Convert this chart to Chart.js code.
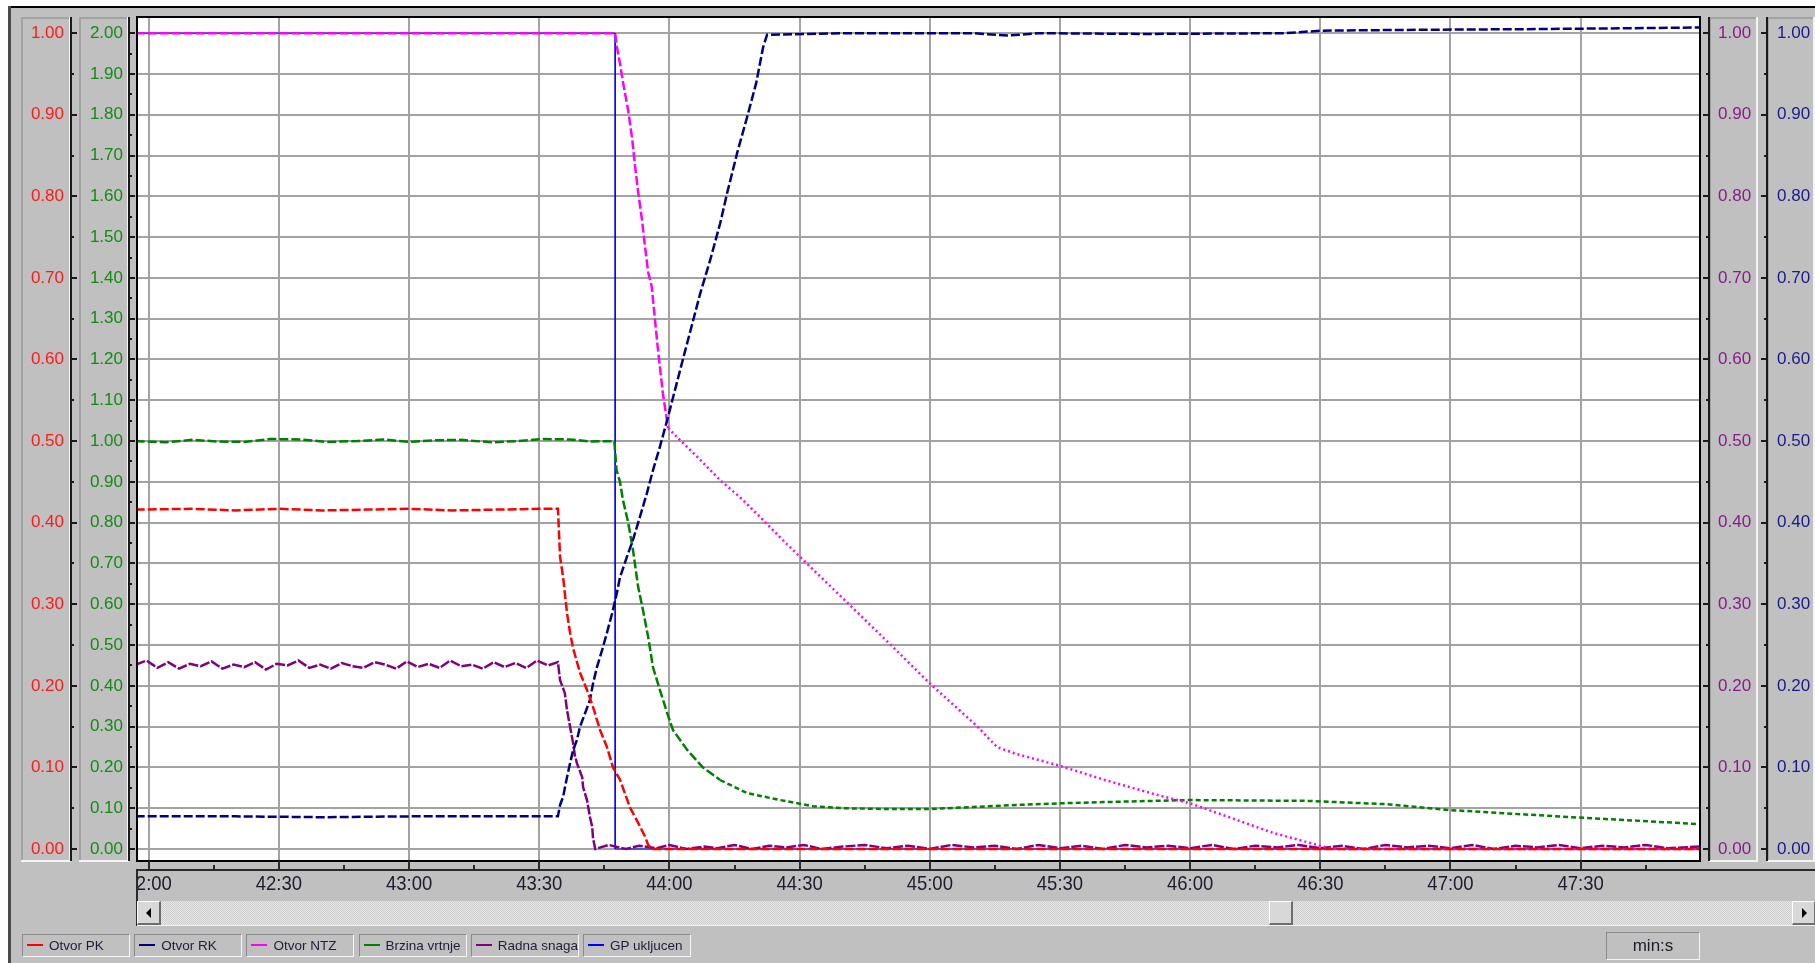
<!DOCTYPE html>
<html>
<head>
<meta charset="utf-8">
<script src="https://cdn.jsdelivr.net/npm/chart.js@4.4.1/dist/chart.umd.min.js"></script>
<style>
html, body { margin: 0; padding: 0; width: 1815px; height: 963px; overflow: hidden; background: #c0c0c0;
  font-family: "Liberation Sans", Arial, sans-serif; }
#plot { position: absolute; left: 0; top: 0; }
.strip { position: absolute; }
#sb { position: absolute; left: 137px; top: 901px; width: 1678px; height: 24px;
  background: repeating-conic-gradient(#e6e6e6 0 25%, #cfcfcf 0 50%) 0 0 / 2px 2px; }
.btn { position: absolute; top: 0; width: 21px; height: 21px; background: #d8d8d8;
  border-top: 1px solid #fff; border-left: 1px solid #fff; border-right: 2px solid #6e6e6e; border-bottom: 2px solid #6e6e6e; }
.arr { position: absolute; top: 6px; width: 0; height: 0; border-top: 5px solid transparent; border-bottom: 5px solid transparent; }
.lg { position: absolute; top: 934px; width: 106px; height: 21px; border-top: 1px solid #8a8a8a; border-left: 1px solid #8a8a8a;
  border-right: 1px solid #f6f6f6; border-bottom: 1px solid #f6f6f6; font-size: 13.5px; color: #1e1e38; }
.lg i { position: absolute; left: 4px; top: 9px; width: 16px; height: 2px; }
.lg span { position: absolute; left: 26px; top: 3px; white-space: nowrap; }
#unit { position: absolute; left: 1606px; top: 932px; width: 92px; height: 26px; border-top: 1px solid #8a8a8a; border-left: 1px solid #8a8a8a;
  border-right: 1px solid #f6f6f6; border-bottom: 1px solid #f6f6f6; font-size: 17px; line-height: 26px; text-align: center; color: #1e1e2a; }
</style>
</head>
<body>
<canvas id="plot" width="1815" height="963"></canvas>
<div class="strip" style="left:0;top:0;width:1815px;height:6px;background:#fff"></div>
<div class="strip" style="left:8px;top:6px;width:1807px;height:2px;background:#000"></div>
<div class="strip" style="left:0;top:0;width:8px;height:963px;background:#fff"></div>
<div class="strip" style="left:8px;top:6px;width:3px;height:957px;background:#4a4a4a"></div>
<div id="sb">
  <div class="btn" style="left:0"><div class="arr" style="left:8px;border-right:5px solid #000"></div></div>
  <div class="btn" style="left:1132px"></div>
  <div class="btn" style="left:1655px"><div class="arr" style="left:9px;border-left:5px solid #000"></div></div>
</div>
<div id="legend"></div>
<div id="unit">min:s</div>
<script>
// time axis: seconds after 42:00
const xStart = 42 * 60;
const xMin = -2.7, xMax = 357.5;
const xTickLabels = ['42:00', '42:30', '43:00', '43:30', '44:00', '44:30', '45:00', '45:30', '46:00', '46:30', '47:00', '47:30'];
const unitTicks = [0, 0.1, 0.2, 0.3, 0.4, 0.5, 0.6, 0.7, 0.8, 0.9, 1.0];
const greenTicks = [0, 0.1, 0.2, 0.3, 0.4, 0.5, 0.6, 0.7, 0.8, 0.9, 1.0, 1.1, 1.2, 1.3, 1.4, 1.5, 1.6, 1.7, 1.8, 1.9, 2.0];

const seriesNames = ['Otvor PK', 'Otvor RK', 'Otvor NTZ', 'Brzina vrtnje', 'Radna snaga', 'GP ukljucen'];
const seriesColors = ['#ff0000', '#000080', '#ff00ff', '#008000', '#800080', '#0000ff'];

// Otvor PK (0..1)
const pkT = [-3, 10, 20, 30, 40, 50, 60, 70, 80, 90, 94.3, 94.8, 95.5, 96.4, 97.1, 97.8, 99.4, 101, 102.4, 104, 105.6, 107, 108.6, 110.9, 112.8, 114.4, 115.1, 116, 358];
const pkV = [0.416, 0.417, 0.415, 0.417, 0.415, 0.416, 0.417, 0.415, 0.416, 0.417, 0.417, 0.358, 0.333, 0.289, 0.265, 0.246, 0.216, 0.195, 0.174, 0.146, 0.125, 0.1, 0.085, 0.051, 0.032, 0.015, 0.005, 0, 0];

// Otvor RK (0..1)
const rkT = [-3, 20, 40, 60, 80, 94.3, 94.8, 95.5, 96.4, 97.1, 97.8, 98.7, 99.4, 100.6, 101.7, 102.4, 103.3, 104.5, 105.6, 106.8, 107.9, 108.6, 110.2, 111.6, 113.2, 114.8, 116.2, 117.8, 119.5, 123.1, 127.1, 129.4, 131.7, 133.3, 135.6, 137.9, 140.0, 141.6, 142.5, 160, 190, 198, 205, 230, 262, 270, 290, 320, 340, 358];
const rkV = [0.04, 0.04, 0.039, 0.04, 0.04, 0.04, 0.054, 0.064, 0.088, 0.105, 0.121, 0.134, 0.15, 0.167, 0.183, 0.203, 0.223, 0.244, 0.265, 0.289, 0.314, 0.333, 0.358, 0.379, 0.407, 0.436, 0.464, 0.493, 0.526, 0.60, 0.681, 0.722, 0.767, 0.804, 0.853, 0.897, 0.939, 0.983, 0.998, 1.0, 1.0, 0.997, 1.0, 0.999, 1.0, 1.003, 1.004, 1.005, 1.006, 1.007];

// Otvor NTZ (0..1)
const ntzT = [-3, 107.5, 107.9, 108.6, 109.3, 110.5, 111.4, 112.1, 112.8, 113.7, 114.4, 115.1, 115.9, 117.3, 118.5, 119.7, 122.5, 127.1, 131.7, 136.3, 140.9, 145.5, 150.1, 154.0, 169.9, 180, 190.6, 195.5, 199.6, 210, 220.1, 232.6, 240, 259, 270, 272.5, 358];
const ntzV = [1.0, 1.0, 0.983, 0.963, 0.94, 0.905, 0.871, 0.836, 0.805, 0.77, 0.737, 0.707, 0.69, 0.615, 0.558, 0.516, 0.501, 0.477, 0.452, 0.431, 0.407, 0.382, 0.358, 0.338, 0.256, 0.203, 0.152, 0.125, 0.117, 0.102, 0.085, 0.066, 0.056, 0.02, 0.004, 0, 0];

// Brzina vrtnje (0..2)
const brzT = [-3, 4, 10, 16, 22, 28, 35, 41, 48, 54, 60, 66, 72, 79, 85, 91, 97, 102, 107.3, 107.8, 108.6, 109.3, 110.5, 111.6, 112.8, 113.9, 115.1, 116.2, 117.8, 119.5, 120.8, 124.1, 127.7, 131.7, 137.9, 145.5, 153.1, 160, 170, 180, 190, 200, 210, 220, 240, 267, 285, 299, 328, 357.5];
const brzV = [1.0, 0.997, 1.003, 0.999, 0.998, 1.005, 1.004, 0.998, 1.0, 1.004, 0.998, 1.002, 1.003, 0.997, 1.0, 1.005, 1.004, 0.999, 1.0, 0.93, 0.90, 0.855, 0.80, 0.733, 0.642, 0.586, 0.52, 0.446, 0.39, 0.333, 0.292, 0.243, 0.20, 0.169, 0.137, 0.12, 0.105, 0.10, 0.098, 0.098, 0.103, 0.108, 0.112, 0.115, 0.12, 0.118, 0.11, 0.096, 0.078, 0.061];

// Radna snaga (0..1)
const rsT = [-3, -0.5, 2, 4.5, 7, 9.5, 12, 14.5, 17, 19.5, 22, 24.5, 27, 29.5, 32, 34.5, 37, 39.5, 42, 44.5, 47, 49.5, 52, 54.5, 57, 59.5, 62, 64.5, 67, 69.5, 72, 74.5, 77, 79.5, 82, 84.5, 87, 89.5, 92, 94.3,
  94.8, 95.9, 96.4, 97.1, 97.8, 98.2, 98.7, 99.9, 100.1, 101.0, 101.7, 102.2, 102.4, 102.9,
  106, 110, 113, 117, 120, 124, 128, 131, 135, 139, 143, 147, 151, 155, 160, 165, 170, 175, 180, 185, 190, 195, 200, 205, 210, 215, 220, 225, 230, 235, 240, 245, 250, 255, 260, 265, 270, 275, 280, 285, 290, 295, 300, 305, 310, 315, 320, 325, 330, 335, 340, 345, 350, 357.5];
const rsV = [0.226, 0.231, 0.222, 0.229, 0.221, 0.227, 0.224, 0.23, 0.221, 0.226, 0.223, 0.229, 0.22, 0.227, 0.225, 0.231, 0.222, 0.226, 0.221, 0.228, 0.224, 0.222, 0.229, 0.226, 0.221, 0.23, 0.223, 0.227, 0.222, 0.231, 0.224, 0.226, 0.221, 0.229, 0.223, 0.228, 0.222, 0.231, 0.225, 0.229,
  0.207, 0.191, 0.17, 0.15, 0.13, 0.115, 0.105, 0.088, 0.076, 0.06, 0.039, 0.027, 0.013, 0,
  0.005, 0, 0.004, 0.001, 0.005, 0, 0.003, 0.001, 0.005, 0, 0.004, 0.002, 0.005, 0, 0.003, 0.005, 0.001, 0.004, 0, 0.005, 0.002, 0.004, 0, 0.005, 0.001, 0.004, 0, 0.005, 0.002, 0.004, 0.001, 0.005, 0, 0.004, 0.002, 0.005, 0.001, 0.004, 0, 0.005, 0.002, 0.004, 0.001, 0.005, 0, 0.004, 0.002, 0.005, 0.001, 0.004, 0.002, 0.005, 0.001, 0.003];

// GP ukljucen (0/1)
const gpT = [-3, 107.5, 107.5, 358];
const gpV = [1, 1, 0, 0];

const pts = (t, v) => t.map((x, i) => ({ x: x, y: v[i] }));
const fmtTime = v => { const s = Math.round(v + xStart); return Math.floor(s / 60) + ':' + String(s % 60).padStart(2, '0'); };
const xTickValues = xTickLabels.map(l => { const p = l.split(':').map(Number); return p[0] * 60 + p[1] - xStart; });

const axisFont = { family: '"Liberation Sans", Arial, sans-serif', size: 17 };

function yAxis(pos, weight, min, max, ticks, color, width, pad, grid) {
  return {
    type: 'linear', position: pos, weight: weight, min: min, max: max,
    afterBuildTicks: s => { s.ticks = ticks.map(v => ({ value: v })); },
    afterFit: s => { s.width = width; s.paddingTop = 0; s.paddingBottom = 0; },
    ticks: { color: color, font: axisFont, padding: pad, callback: v => v.toFixed(2) },
    grid: grid ? { color: '#a3a3a3', lineWidth: 2, drawTicks: false } : { display: false, drawTicks: false },
    border: { display: false }
  };
}

function line(i, t, v, axis, dash, extra) {
  return Object.assign({
    label: seriesNames[i], data: pts(t, v), yAxisID: axis,
    borderColor: seriesColors[i], borderWidth: 2.5, borderDash: dash,
    pointRadius: 0, tension: 0, fill: false
  }, extra || {});
}

// panels drawn around the value axes; line = x of the axis line, dir = side of the tick marks
function panelsOf(chart) {
  const s = chart.scales;
  return [
    { id: 'yRed', x0: s.yRed.left, x1: s.yRed.right - 8, line: s.yRed.right - 8, dir: 1 },
    { id: 'yGreen', x0: s.yGreen.left, x1: s.yGreen.right - 8, line: s.yGreen.right - 8, dir: 1 },
    { id: 'yPurple', x0: s.yPurple.left + 9, x1: s.yPurple.right - 9, line: s.yPurple.left + 9, dir: -1 },
    { id: 'yNavy', x0: s.yNavy.left, x1: s.yNavy.right, line: s.yNavy.left, dir: -1 }
  ];
}

const chrome = {
  id: 'chrome',
  beforeDraw(chart) {
    const { ctx, chartArea: a } = chart;
    ctx.save();
    ctx.fillStyle = '#fff';
    ctx.fillRect(a.left, a.top, a.right - a.left, a.bottom - a.top);
    for (const p of panelsOf(chart)) {
      ctx.fillStyle = '#a2a2a2';
      ctx.fillRect(p.x0, a.top, p.x1 - p.x0, 2);
      ctx.fillRect(p.x0, a.top, 2, a.bottom - a.top);
      ctx.fillStyle = '#f4f4f4';
      ctx.fillRect(p.x0, a.bottom - 1, p.x1 - p.x0, 2);
      ctx.fillRect(p.x1 - 2, a.top, 2, a.bottom - a.top);
    }
    ctx.restore();
  },
  afterDraw(chart) {
    const { ctx, chartArea: a, scales } = chart;
    ctx.save();
    // value axes: line + major/minor ticks
    for (const p of panelsOf(chart)) {
      const sc = scales[p.id];
      ctx.fillStyle = '#1a1a1a';
      ctx.fillRect(p.line - 1, a.top, 2, a.bottom - a.top);
      const top = sc.max;
      for (let k = 0; k * 0.05 <= top + 1e-9; k++) {
        const y = Math.round(sc.getPixelForValue(k * 0.05));
        const len = k % 2 === 0 ? 6 : 3;
        const x = p.dir > 0 ? p.line : p.line - len;
        ctx.fillRect(x, y - 1, len, 2);
      }
    }
    // plot frame
    ctx.strokeStyle = '#000';
    ctx.lineWidth = 2;
    ctx.strokeRect(a.left, a.top, a.right - a.left, a.bottom - a.top);
    // time axis strip
    const xs = scales.x;
    const yl = a.bottom + 8;
    ctx.fillStyle = '#2a2a2a';
    ctx.fillRect(a.left, yl, chart.width - a.left, 2);
    ctx.fillRect(a.left - 1, yl, 2, 57);
    ctx.fillStyle = '#f4f4f4';
    ctx.fillRect(a.left, yl + 56, chart.width - a.left, 1);
    ctx.fillStyle = '#2a2a2a';
    for (let v = 0; v <= xMax; v += 15) {
      const x = Math.round(xs.getPixelForValue(v));
      const major = v % 30 === 0;
      ctx.fillRect(x - 1, major ? a.bottom : yl - 4, 2, major ? 8 : 4);
    }
    ctx.beginPath();
    ctx.rect(a.left + 1, yl + 2, chart.width - a.left, 40);
    ctx.clip();
    ctx.fillStyle = '#1c1c2c';
    ctx.font = '21px "Liberation Sans", Arial, sans-serif';
    ctx.textAlign = 'center';
    ctx.textBaseline = 'middle';
    xTickValues.forEach((v, i) => {
      ctx.save();
      ctx.translate(xs.getPixelForValue(v), yl + 15);
      ctx.scale(0.88, 1);
      ctx.fillText(xTickLabels[i], 0, 0);
      ctx.restore();
    });
    ctx.restore();
  }
};

const ntzDots = { borderDash: c => c.p0.parsed.x >= 119.7 ? [2, 3] : [9, 3] };
const brzDots = { borderDash: c => c.p0.parsed.x >= 131.7 ? [5, 3] : [9, 3] };

new Chart(document.getElementById('plot'), {
  type: 'line',
  data: {
    datasets: [
      line(0, pkT, pkV, 'yRed', [9, 3]),
      line(1, rkT, rkV, 'yNavy', [9, 3]),
      line(2, ntzT, ntzV, 'yRed', [9, 3], { segment: ntzDots }),
      line(3, brzT, brzV, 'yGreen', [9, 3], { segment: brzDots }),
      line(4, rsT, rsV, 'yPurple', [10, 2]),
      line(5, gpT, gpV, 'yNavy', [], { borderWidth: 1 })
    ]
  },
  options: {
    responsive: false,
    animation: false,
    devicePixelRatio: 1,
    layout: { padding: { left: 21, right: 0, top: 17, bottom: 37 } },
    plugins: { legend: { display: false }, tooltip: { enabled: false } },
    scales: {
      x: {
        type: 'linear', position: 'bottom', min: xMin, max: xMax,
        afterBuildTicks: s => { s.ticks = xTickValues.map(v => ({ value: v })); },
        afterFit: s => { s.height = 65; },
        ticks: { display: false, callback: fmtTime },
        grid: { color: '#a3a3a3', lineWidth: 2, drawTicks: false },
        border: { display: false }
      },
      yRed: yAxis('left', 2, -0.0147, 1.0198, unitTicks, '#ff1a1a', 58, 15, false),
      yGreen: yAxis('left', 1, -0.0294, 2.0396, greenTicks, '#138a13', 58, 14, true),
      yPurple: yAxis('right', 1, -0.0147, 1.0198, unitTicks, '#8a1a8a', 67, 18, false),
      yNavy: yAxis('right', 2, -0.0147, 1.0198, unitTicks, '#1a1a8a', 48, 10, false)
    }
  },
  plugins: [chrome]
});

// legend boxes under the time axis
const legend = document.getElementById('legend');
seriesNames.forEach((name, i) => {
  const box = document.createElement('div');
  box.className = 'lg';
  box.style.left = (22 + i * 112.2) + 'px';
  const sw = document.createElement('i');
  sw.style.background = seriesColors[i];
  const tx = document.createElement('span');
  tx.textContent = name;
  box.appendChild(sw);
  box.appendChild(tx);
  legend.appendChild(box);
});
</script>
</body>
</html>
